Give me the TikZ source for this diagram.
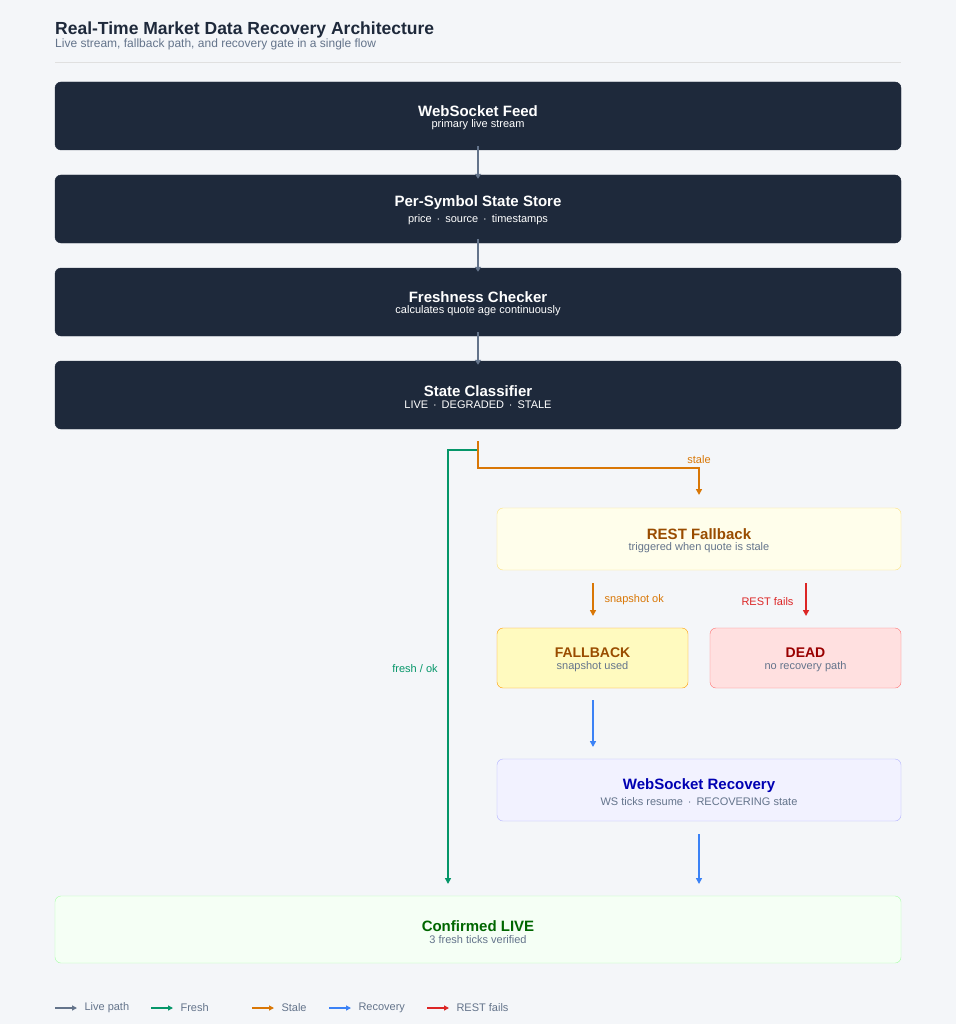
\documentclass[tikz,border=0pt]{standalone}
\usepackage{fontspec}
\setmainfont{Liberation Sans}
\usetikzlibrary{arrows.meta}
\definecolor{bg}{HTML}{F4F6F9}
\definecolor{dark}{HTML}{1E293B}
\definecolor{gline}{HTML}{64748B}
\definecolor{fresh}{HTML}{059669}
\definecolor{stale}{HTML}{D97706}
\definecolor{rec}{HTML}{3B82F6}
\definecolor{fail}{HTML}{DC2626}
\definecolor{sub}{HTML}{64748B}
\begin{document}
\begin{tikzpicture}[x=1pt,y=-1pt,
  box/.style={rounded corners=6pt,minimum height=68pt,minimum width=846pt,align=center,inner sep=0pt},
  darkbox/.style={box,fill=dark,draw=dark},
  ttl/.style={font=\bfseries\fontsize{15}{17}\selectfont},
  st/.style={font=\fontsize{11}{13}\selectfont},
  arr/.style={line width=2pt,-{Triangle[length=6pt,width=6pt]}},
  lbl/.style={font=\fontsize{11}{13}\selectfont}]
\fill[bg] (0,0) rectangle (956,1024);
\useasboundingbox (0,0) rectangle (956,1024);
\node[anchor=base west,font=\bfseries\fontsize{17.5}{20}\selectfont,text=dark,inner sep=0] (title) at (55,35) {Real-Time Market Data Recovery Architecture};
\node[anchor=base west,font=\fontsize{12}{14}\selectfont,text=sub,inner sep=0] (subt) at (55,48) {Live stream, fallback path, and recovery gate in a single flow};
\draw[draw=black!12,line width=1pt] (55,63) -- (901,63);

\node[darkbox] (ws) at (478,116) {};
\node[ttl,text=white] at (478,111) {WebSocket Feed};
\node[st,text=white] at (478,125) {primary live stream};
\node[darkbox] (store) at (478,209) {};
\node[ttl,text=white] at (478,203) {Per-Symbol State Store};
\node[st,text=white] at (478,220) {price \,·\, source \,·\, timestamps};
\node[darkbox] (fresh) at (478,302) {};
\node[ttl,text=white] at (478,297) {Freshness Checker};
\node[st,text=white] at (478,311) {calculates quote age continuously};
\node[darkbox] (cls) at (478,395) {};
\node[ttl,text=white] at (478,391) {State Classifier};
\node[st,text=white] at (478,405) {LIVE \,·\, DEGRADED \,·\, STALE};

\foreach \a/\b in {ws/store,store/fresh,fresh/cls}
  \draw[arr,gline,line width=2.5pt,-{Triangle[length=5pt,width=6pt]}] ([yshift=4pt]\a.south) -- ([yshift=-4pt]\b.north);

\node[box,minimum width=404pt,minimum height=62pt,fill=yellow!8,draw=yellow!60!orange!50] (rest) at (699,539) {};
\node[ttl,text=orange!60!black] at (699,534) {REST Fallback};
\node[st,text=sub] at (699,548) {triggered when quote is stale};
\node[box,minimum width=191pt,minimum height=60pt,fill=orange!15!yellow!25,draw=orange!80!yellow] (fb) at (592.5,658) {};
\node[ttl,font=\bfseries\fontsize{14}{16}\selectfont,text=orange!60!black] at (592.5,653) {FALLBACK};
\node[st,text=sub] at (592.5,667) {snapshot used};
\node[box,minimum width=191pt,minimum height=60pt,fill=red!12,draw=red!55] (dead) at (805.5,658) {};
\node[ttl,font=\bfseries\fontsize{14}{16}\selectfont,text=red!60!black] at (805.5,653) {DEAD};
\node[st,text=sub] at (805.5,667) {no recovery path};
\node[box,minimum width=404pt,minimum height=62pt,fill=blue!5,draw=blue!30] (wsr) at (699,790) {};
\node[ttl,text=blue!70!black] at (699,786) {WebSocket Recovery};
\node[st,text=sub] at (699,802) {WS ticks resume \,·\, RECOVERING state};
\node[box,minimum height=67pt,fill=green!4,draw=green!35] (live) at (478,929.5) {};
\node[ttl,text=green!40!black] at (478,926) {Confirmed LIVE};
\node[st,text=sub] at (478,940) {3 fresh ticks verified};

\coordinate (src) at (478,441);
\draw[arr,fresh] (src) |- (448,450) -- (448,884);
\node[lbl,text=fresh] at (415,669) {fresh / ok};
\draw[arr,stale] (src) |- (699,468) -- (699,495);
\node[lbl,text=stale] at (699,460) {stale};
\draw[arr,stale] (593,583) -- (593,616);
\node[lbl,text=stale,anchor=west] at (601,600) {snapshot ok};
\draw[arr,fail] (806,583) -- (806,616);
\node[lbl,text=fail,anchor=east] at (797,602) {REST fails};
\draw[arr,rec] (593,700) -- (593,747);
\draw[arr,rec] (699,834) -- (699,884);

\foreach \x/\c/\t in {55/gline/Live path,151/fresh/Fresh / ok,252/stale/Stale,329/rec/Recovery,427/fail/REST fails}{
  \draw[line width=2.5pt,\c,-{Triangle[length=5pt,width=5pt]}] (\x,1008) -- (\x+22,1008);
  \node[lbl,text=sub,anchor=west] at (\x+26,1008) {\t};
}
\end{tikzpicture}
\end{document}
